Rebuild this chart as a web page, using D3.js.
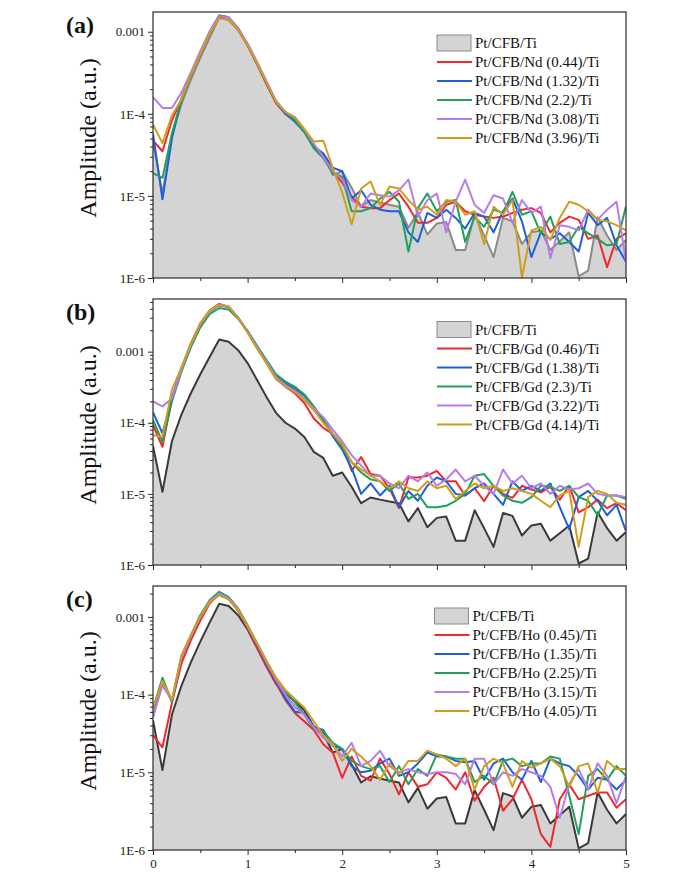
<!DOCTYPE html>
<html>
<head>
<meta charset="utf-8">
<script src="https://cdn.jsdelivr.net/npm/d3@7"></script>
<style>
  html, body { margin: 0; padding: 0; background: #fff; }
  svg { display: block; font-family: "Liberation Serif", "Times New Roman", serif; }
</style>
</head>
<body>
<svg id="chart" width="681" height="883"></svg>
<script>
// ---- DATA ----
const xValues = [0,0.1,0.2,0.3,0.4,0.5,0.6,0.7,0.8,0.9,1.0,1.1,1.2,1.3,1.4,1.5,1.6,1.7,1.8,1.9,2.0,2.1,2.2,2.3,2.4,2.5,2.6,2.7,2.8,2.9,3.0,3.1,3.2,3.3,3.4,3.5,3.6,3.7,3.8,3.9,4.0,4.1,4.2,4.3,4.4,4.5,4.6,4.7,4.8,4.9,5.0];
const xTicks = [0,1,2,3,4,5];
const xMinorTicks = [0.5,1.5,2.5,3.5,4.5];
const yTickValues = [1e-6,1e-5,1e-4,1e-3];
const yTickLabels = ["1E-6","1E-5","1E-4","0.001"];
const panelLabels = ["(a)","(b)","(c)"];
const yTitle = "Amplitude (a.u.)";
const yTop = [1.74e-3, 5.5e-3, 2.5e-3];

const refName = "Pt/CFB/Ti";
const refSeries = [4.7e-5,1.07e-5,5.5e-5,1.3e-4,2.6e-4,4.8e-4,8.5e-4,1.48e-3,1.38e-3,1.05e-3,6.9e-4,4.0e-4,2.3e-4,1.38e-4,1.0e-4,8.3e-5,6.3e-5,3.9e-5,3.2e-5,1.8e-5,2.0e-5,1.26e-5,7.4e-6,8.9e-6,8.3e-6,7.8e-6,7.4e-6,4.1e-6,6.3e-6,3.4e-6,4.6e-6,4.8e-6,2.2e-6,2.2e-6,5.9e-6,3.3e-6,1.8e-6,5.4e-6,4.9e-6,2.6e-6,3.6e-6,3.8e-6,2.2e-6,2.8e-6,3.6e-6,1.05e-6,1.23e-6,5.5e-6,3.3e-6,2.2e-6,2.9e-6];

const ndNames = ["Pt/CFB/Nd (0.44)/Ti","Pt/CFB/Nd (1.32)/Ti","Pt/CFB/Nd (2.2)/Ti","Pt/CFB/Nd (3.08)/Ti","Pt/CFB/Nd (3.96)/Ti"];
const ndRed = [4.7e-5,3.5e-5,8.3e-5,1.5e-4,3.0e-4,5.4e-4,9.6e-4,1.5e-3,1.45e-3,1.05e-3,6.8e-4,4.0e-4,2.3e-4,1.35e-4,1.0e-4,8.5e-5,6.2e-5,4.2e-5,3.0e-5,2.0e-5,1.45e-5,9.8e-6,7.4e-6,7.1e-6,7.1e-6,8.9e-6,1.07e-5,7.4e-6,4.7e-6,4.7e-6,5.4e-6,7.8e-6,8.5e-6,6.5e-6,5.9e-6,5.6e-6,5.4e-6,5.6e-6,6.2e-6,6.8e-6,7.1e-6,6.2e-6,3.6e-6,4.7e-6,5.6e-6,5.1e-6,3.0e-6,3.3e-6,1.35e-6,3.0e-6,3.5e-6];
const ndBlue = [5.7e-5,9.1e-6,5.0e-5,1.5e-4,3.0e-4,5.6e-4,1.0e-3,1.58e-3,1.5e-3,1.1e-3,7.0e-4,4.1e-4,2.4e-4,1.4e-4,1.0e-4,8.0e-5,6.0e-5,4.0e-5,3.3e-5,2.2e-5,2.0e-5,9.3e-6,1.17e-5,7.8e-6,6.8e-6,6.5e-6,6.5e-6,3.6e-6,2.75e-6,6.2e-6,5.4e-6,6.8e-6,5.4e-6,4.0e-6,6.2e-6,5.6e-6,3.6e-6,6.5e-6,9.3e-6,4.9e-6,1.8e-6,3.6e-6,3.0e-6,3.5e-6,2.75e-6,2.1e-6,6.2e-6,4.4e-6,5.4e-6,2.5e-6,1.58e-6];
const ndGreen = [1.9e-5,1.66e-5,5.8e-5,1.45e-4,3.0e-4,5.6e-4,1.0e-3,1.58e-3,1.5e-3,1.1e-3,7.0e-4,4.1e-4,2.4e-4,1.4e-4,1.05e-4,8.3e-5,6.0e-5,3.8e-5,2.9e-5,1.9e-5,1.7e-5,6.5e-6,6.5e-6,7.1e-6,9.3e-6,1.12e-5,8.5e-6,2.1e-6,7.1e-6,1.07e-5,6.5e-6,8.5e-6,8.9e-6,2.75e-6,5.6e-6,4.2e-6,6.8e-6,6.2e-6,1.12e-5,5.9e-6,6.5e-6,3.5e-6,5.6e-6,2.6e-6,2.75e-6,4.2e-6,3.5e-6,3.0e-6,2.5e-6,2.6e-6,7.5e-6];
const ndPurple = [1.6e-4,1.18e-4,1.18e-4,1.8e-4,3.2e-4,5.8e-4,1.0e-3,1.55e-3,1.5e-3,1.1e-3,7.2e-4,4.3e-4,2.5e-4,1.45e-4,1.05e-4,9.0e-5,6.5e-5,4.3e-5,3.0e-5,2.0e-5,1.6e-5,8.9e-6,7.4e-6,1.07e-5,1.02e-5,9.8e-6,1.17e-5,1.58e-5,5.6e-6,8.9e-6,1.07e-5,3.6e-6,8.5e-6,1.58e-5,7.8e-6,6.2e-6,1.02e-5,9.3e-6,4.7e-6,8.9e-6,6.2e-6,7.4e-6,1.74e-6,4.4e-6,4.2e-6,3.8e-6,6.8e-6,5.1e-6,6.8e-6,8.5e-6,1.6e-6];
const ndGold = [7.4e-5,4.4e-5,9.5e-5,1.5e-4,3.0e-4,5.4e-4,9.6e-4,1.45e-3,1.42e-3,1.05e-3,6.9e-4,4.1e-4,2.4e-4,1.4e-4,1.05e-4,9.2e-5,6.5e-5,4.6e-5,4.7e-5,2.2e-5,1.1e-5,4.5e-6,1.23e-5,1.5e-5,7.8e-6,1.3e-5,1.23e-5,8.9e-6,6.8e-6,7.4e-6,5.9e-6,8.9e-6,8.5e-6,5.9e-6,6.5e-6,2.6e-6,7.4e-6,5.9e-6,8.9e-6,1.02e-6,3.8e-6,4.2e-6,2.9e-6,5.4e-6,8.5e-6,7.8e-6,6.5e-6,5.1e-6,4.9e-6,4.4e-6,3.8e-6];

const gdNames = ["Pt/CFB/Gd (0.46)/Ti","Pt/CFB/Gd (1.38)/Ti","Pt/CFB/Gd (2.3)/Ti","Pt/CFB/Gd (3.22)/Ti","Pt/CFB/Gd (4.14)/Ti"];
const gdRed = [9.3e-5,4.6e-5,2.2e-4,5.8e-4,1.3e-3,2.5e-3,3.8e-3,4.7e-3,4.3e-3,3.0e-3,1.9e-3,1.15e-3,7.0e-4,4.2e-4,3.2e-4,2.6e-4,1.9e-4,1.15e-4,8.5e-5,7.0e-5,5.0e-5,2.1e-5,3.3e-5,1.9e-5,1.8e-5,1.2e-5,6.3e-6,1.7e-5,1.7e-5,1.8e-5,2.1e-5,1.5e-5,1.5e-5,9.5e-6,1.2e-5,7.9e-6,1.3e-5,1.0e-5,8.8e-6,1.3e-5,1.15e-5,1.05e-5,1.25e-5,8.3e-6,1.3e-5,5.5e-6,6.5e-6,8.3e-6,6.3e-6,7.4e-6,5.9e-6];
const gdBlue = [1.4e-4,7.1e-5,2.2e-4,5.5e-4,1.25e-3,2.4e-3,3.7e-3,4.5e-3,4.2e-3,3.0e-3,1.95e-3,1.2e-3,7.4e-4,4.6e-4,3.6e-4,3.0e-4,2.4e-4,1.6e-4,1.1e-4,6.5e-5,4.2e-5,2.3e-5,1.0e-5,1.4e-5,9.5e-6,1.3e-5,6.5e-6,1.1e-5,8.0e-6,1.3e-5,1.7e-5,1.5e-5,1.0e-5,9.5e-6,1.2e-5,1.4e-5,1.0e-5,7.0e-6,1.5e-5,1.1e-5,1.3e-5,1.1e-5,1.4e-5,6.5e-6,3.2e-6,9.0e-6,1.1e-5,8.0e-6,5.0e-6,7.0e-6,3.0e-6];
const gdGreen = [1.1e-4,5.4e-5,2.0e-4,5.2e-4,1.15e-3,2.2e-3,3.4e-3,4.1e-3,3.9e-3,2.9e-3,1.9e-3,1.2e-3,7.6e-4,4.8e-4,3.8e-4,3.2e-4,2.5e-4,1.7e-4,1.1e-4,7.0e-5,4.5e-5,2.8e-5,2.0e-5,1.6e-5,1.5e-5,1.1e-5,1.4e-5,8.5e-6,1.0e-5,6.5e-6,6.5e-6,6.8e-6,8.0e-6,1.0e-5,1.8e-5,1.9e-5,1.3e-5,9.5e-6,8.0e-6,7.5e-6,9.0e-6,1.3e-5,1.25e-5,1.1e-5,1.3e-5,9.0e-6,8.0e-6,5.0e-6,9.5e-6,9.5e-6,8.5e-6];
const gdPurple = [2.0e-4,1.7e-4,2.2e-4,5.6e-4,1.25e-3,2.4e-3,3.7e-3,4.5e-3,4.3e-3,3.0e-3,1.9e-3,1.15e-3,7.2e-4,4.4e-4,3.4e-4,2.8e-4,2.2e-4,1.6e-4,1.2e-4,8.0e-5,5.5e-5,3.5e-5,2.5e-5,1.8e-5,1.8e-5,1.4e-5,1.2e-5,1.8e-5,1.5e-5,2.0e-5,1.3e-5,1.6e-5,2.2e-5,1.5e-5,1.8e-5,1.3e-5,1.0e-5,2.2e-5,1.4e-5,1.8e-5,1.2e-5,1.4e-5,1.0e-5,1.3e-5,1.15e-5,1.2e-5,1.4e-5,1.0e-5,9.5e-6,9.5e-6,9.0e-6];
const gdGold = [6.7e-5,6.3e-5,2.9e-4,6.0e-4,1.3e-3,2.5e-3,3.8e-3,4.6e-3,4.3e-3,3.0e-3,1.85e-3,1.1e-3,6.8e-4,4.1e-4,3.2e-4,2.7e-4,2.1e-4,1.5e-4,1.0e-4,7.0e-5,5.0e-5,2.8e-5,2.2e-5,1.8e-5,1.5e-5,1.2e-5,1.5e-5,1.2e-5,1.1e-5,1.5e-5,1.2e-5,1.3e-5,8.5e-6,1.1e-5,1.4e-5,1.2e-5,1.3e-5,1.1e-5,1.2e-5,1.1e-5,1.0e-5,8.0e-6,6.5e-6,9.5e-6,1.1e-5,1.8e-6,9.0e-6,1.1e-5,1.0e-5,7.5e-6,7.0e-6];

const hoNames = ["Pt/CFB/Ho (0.45)/Ti","Pt/CFB/Ho (1.35)/Ti","Pt/CFB/Ho (2.25)/Ti","Pt/CFB/Ho (3.15)/Ti","Pt/CFB/Ho (4.05)/Ti"];
const hoRed = [3.0e-5,2.1e-5,7.8e-5,2.5e-4,5.0e-4,9.0e-4,1.5e-3,1.95e-3,1.7e-3,1.2e-3,7.2e-4,4.1e-4,2.3e-4,1.4e-4,8.5e-5,5.8e-5,4.5e-5,3.5e-5,2.3e-5,1.8e-5,8.5e-6,1.6e-5,9.0e-6,7.8e-6,1.5e-5,9.5e-6,5.2e-6,1.0e-5,6.5e-6,7.0e-6,1.0e-5,8.5e-6,6.0e-6,1.0e-5,4.3e-6,6.5e-6,8.5e-6,3.2e-6,4.5e-6,8.0e-6,4.5e-6,1.6e-6,1.1e-6,4.5e-6,7.0e-6,4.5e-6,5.0e-6,5.5e-6,5.5e-6,3.5e-6,4.5e-6];
const hoBlue = [5.2e-5,1.5e-4,8.1e-5,3.0e-4,5.6e-4,1.0e-3,1.6e-3,2.05e-3,1.78e-3,1.25e-3,7.6e-4,4.4e-4,2.5e-4,1.5e-4,9.0e-5,6.0e-5,5.8e-5,3.8e-5,3.5e-5,2.2e-5,2.0e-5,1.2e-5,1.0e-5,1.05e-5,1.3e-5,1.5e-5,9.0e-6,1.0e-5,1.3e-5,1.8e-5,1.6e-5,1.6e-5,1.4e-5,1.35e-5,1.4e-5,8.0e-6,1.3e-5,1.5e-5,1.0e-5,8.0e-6,1.4e-5,7.5e-6,1.5e-5,1.3e-5,1.2e-5,9.0e-6,6.0e-6,8.5e-6,8.0e-6,6.0e-6,8.0e-6];
const hoGreen = [6.6e-5,1.65e-4,8.1e-5,3.1e-4,5.8e-4,1.05e-3,1.65e-3,2.1e-3,1.8e-3,1.28e-3,7.8e-4,4.6e-4,2.7e-4,1.6e-4,1.1e-4,8.0e-5,5.5e-5,3.6e-5,3.4e-5,2.4e-5,2.0e-5,1.4e-5,1.2e-5,1.1e-5,1.2e-5,7.5e-6,1.2e-5,7.0e-6,1.1e-5,9.0e-6,1.7e-5,1.6e-5,1.5e-5,1.5e-5,7.5e-6,9.0e-6,7.0e-6,1.4e-5,1.5e-5,1.2e-5,1.3e-5,1.3e-5,1.6e-5,1.5e-5,5.0e-6,1.6e-6,9.0e-6,1.1e-5,8.0e-6,1.2e-5,9.0e-6];
const hoPurple = [5.2e-5,1.3e-4,8.5e-5,3.0e-4,5.6e-4,1.0e-3,1.6e-3,2.0e-3,1.75e-3,1.25e-3,7.6e-4,4.5e-4,2.6e-4,1.55e-4,1.0e-4,7.0e-5,5.5e-5,3.8e-5,2.8e-5,2.2e-5,1.6e-5,2.4e-5,1.2e-5,1.4e-5,1.9e-5,1.2e-5,1.0e-5,1.1e-5,1.0e-5,9.5e-6,1.0e-5,1.0e-5,9.5e-6,7.0e-6,1.5e-5,1.5e-5,7.0e-6,1.0e-5,9.0e-6,1.1e-5,1.0e-5,9.0e-6,6.5e-6,2.6e-6,7.0e-6,1.1e-5,6.0e-6,1.3e-5,9.0e-6,4.0e-6,9.0e-6];
const hoGold = [6.6e-5,1.5e-4,8.5e-5,3.2e-4,5.8e-4,1.0e-3,1.55e-3,1.9e-3,1.68e-3,1.22e-3,7.6e-4,4.6e-4,2.7e-4,1.65e-4,1.15e-4,8.8e-5,6.8e-5,4.5e-5,3.0e-5,2.3e-5,1.4e-5,2.0e-5,1.6e-5,1.2e-5,8.0e-6,1.3e-5,9.5e-6,1.4e-5,1.4e-5,1.9e-5,1.7e-5,1.5e-5,1.2e-5,1.5e-5,6.0e-6,1.2e-5,1.5e-5,1.3e-5,6.5e-6,1.4e-5,1.15e-5,1.3e-5,1.5e-5,1.2e-5,6.5e-6,1.2e-5,1.3e-5,5.5e-6,1.4e-5,1.1e-5,1.1e-5];

const seriesColors = ["#f0282d","#1f5fd8","#20a058","#b67ce8","#cf9e1e"];

// ---- LAYOUT ----
const plotLeft = 153, plotRight = 626;
const panelBoxes = [
  {top: 12, bottom: 278, legendX: 437, legendY: 43},
  {top: 299, bottom: 565, legendX: 437, legendY: 329.5},
  {top: 586, bottom: 850, legendX: 434.5, legendY: 616}
];
const panels = [
  {names: ndNames, data: [ndRed, ndBlue, ndGreen, ndPurple, ndGold], refStroke: "#8a8a8a"},
  {names: gdNames, data: [gdRed, gdBlue, gdGreen, gdPurple, gdGold], refStroke: "#3a3a3a"},
  {names: hoNames, data: [hoRed, hoBlue, hoGreen, hoPurple, hoGold], refStroke: "#3a3a3a"}
];

const svg = d3.select("#chart");
const x = d3.scaleLinear().domain([0, 5]).range([plotLeft, plotRight]);

panels.forEach((p, pi) => {
  const box = panelBoxes[pi];
  const y = d3.scaleLog().domain([1e-6, yTop[pi]]).range([box.bottom, box.top]);
  const g = svg.append("g");
  const clipId = "clip" + pi;
  svg.append("clipPath").attr("id", clipId).append("rect")
    .attr("x", plotLeft).attr("y", box.top).attr("width", plotRight - plotLeft).attr("height", box.bottom - box.top);

  const plot = g.append("g").attr("clip-path", `url(#${clipId})`);
  const refPts = xValues.map((xv, i) => [xv, refSeries[i]]);
  plot.append("path")
    .datum(refPts)
    .attr("fill", "#d4d4d4")
    .attr("d", d3.area().x(d => x(d[0])).y0(y(1e-6)).y1(d => y(Math.max(d[1], 1e-6)))(refPts));
  plot.append("path")
    .datum(refPts)
    .attr("fill", "none").attr("stroke", p.refStroke).attr("stroke-width", 2).attr("stroke-linejoin", "round")
    .attr("d", d3.line().x(d => x(d[0])).y(d => y(Math.max(d[1], 1e-6))));

  p.data.forEach((s, si) => {
    const pts = xValues.map((xv, i) => [xv, s[i]]);
    plot.append("path")
      .datum(pts)
      .attr("fill", "none").attr("stroke", seriesColors[si]).attr("stroke-width", 2).attr("stroke-linejoin", "round")
      .attr("d", d3.line().x(d => x(d[0])).y(d => y(Math.max(d[1], 1e-6))));
  });

  // frame
  g.append("rect").attr("x", plotLeft).attr("y", box.top)
    .attr("width", plotRight - plotLeft).attr("height", box.bottom - box.top)
    .attr("fill", "none").attr("stroke", "#2a2a2a").attr("stroke-width", 1.2);

  // y axis: major
  const yMajor = d3.axisLeft(y).tickValues(yTickValues).tickSize(5).tickPadding(3)
    .tickFormat((d, i) => yTickLabels[i]);
  const ya = g.append("g").attr("transform", `translate(${plotLeft},0)`).call(yMajor);
  ya.select(".domain").remove();
  ya.selectAll("text").attr("font-size", 13).attr("font-family", "Liberation Serif, serif").attr("fill", "#222");
  ya.selectAll("line").attr("stroke", "#2a2a2a");
  // y axis: minor
  const minor = [];
  [1e-6, 1e-5, 1e-4, 1e-3].forEach(dec => { for (let k = 2; k <= 9; k++) { const v = dec * k; if (v < yTop[pi]) minor.push(v); } });
  const ym = g.append("g").attr("transform", `translate(${plotLeft},0)`)
    .call(d3.axisLeft(y).tickValues(minor).tickSize(3).tickFormat(""));
  ym.select(".domain").remove();
  ym.selectAll("line").attr("stroke", "#2a2a2a");

  // x axis
  const xa = g.append("g").attr("transform", `translate(0,${box.bottom})`)
    .call(d3.axisBottom(x).tickValues(xTicks).tickSize(5).tickPadding(4).tickFormat(pi === 2 ? d3.format("d") : ""));
  xa.select(".domain").remove();
  xa.selectAll("line").attr("stroke", "#2a2a2a");
  xa.selectAll("text").attr("font-size", 13).attr("font-family", "Liberation Serif, serif").attr("fill", "#222");
  const xm = g.append("g").attr("transform", `translate(0,${box.bottom})`)
    .call(d3.axisBottom(x).tickValues(xMinorTicks).tickSize(3).tickFormat(""));
  xm.select(".domain").remove();
  xm.selectAll("line").attr("stroke", "#2a2a2a");

  // y title
  const cy = (box.top + box.bottom) / 2 - 7;
  g.append("text")
    .attr("transform", `translate(96,${cy}) rotate(-90)`)
    .attr("text-anchor", "middle")
    .attr("font-size", 24)
    .attr("fill", "#111")
    .text(yTitle);

  // panel label
  g.append("text").attr("x", 66).attr("y", box.top + 21)
    .attr("font-size", 24).attr("font-weight", "bold").attr("fill", "#111")
    .text(panelLabels[pi]);

  // legend
  const lg = g.append("g").attr("transform", `translate(${box.legendX},${box.legendY})`);
  const rowH = 19;
  lg.append("rect").attr("x", 0).attr("y", -8).attr("width", 34).attr("height", 16)
    .attr("fill", "#d4d4d4").attr("stroke", "#8a8a8a").attr("stroke-width", 1);
  lg.append("text").attr("x", 38).attr("y", 5).attr("font-size", 15).attr("fill", "#111").text(refName);
  p.names.forEach((nm, si) => {
    const yy = (si + 1) * rowH;
    lg.append("line").attr("x1", 0).attr("x2", 35).attr("y1", yy).attr("y2", yy)
      .attr("stroke", seriesColors[si]).attr("stroke-width", 2);
    lg.append("text").attr("x", 38).attr("y", yy + 5).attr("font-size", 15).attr("fill", "#111").text(nm);
  });
});
</script>
</body>
</html>
